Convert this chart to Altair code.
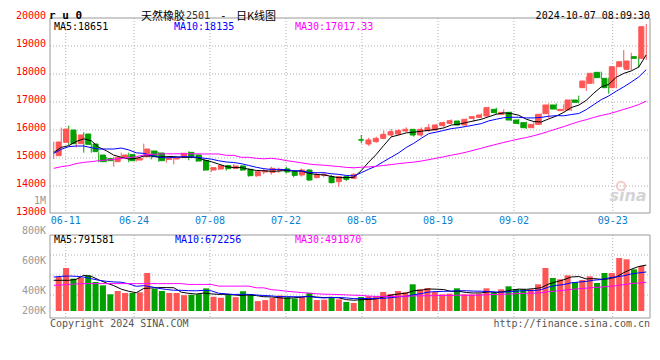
import altair as alt
import pandas as pd

# ---------------- data ----------------
dates = ["06-06","06-07","06-11","06-12","06-13","06-14","06-17","06-18","06-19","06-20",
         "06-21","06-24","06-25","06-26","06-27","06-28","07-01","07-02","07-03","07-04",
         "07-05","07-08","07-09","07-10","07-11","07-12","07-15","07-16","07-17","07-18",
         "07-19","07-22","07-23","07-24","07-25","07-26","07-29","07-30","07-31","08-01",
         "08-02","08-05","08-06","08-07","08-08","08-09","08-12","08-13","08-14","08-15",
         "08-16","08-19","08-20","08-21","08-22","08-23","08-26","08-27","08-28","08-29",
         "08-30","09-02","09-03","09-04","09-05","09-06","09-09","09-10","09-11","09-12",
         "09-13","09-18","09-19","09-20","09-23","09-24","09-25","09-26","09-27","09-30"]

opens = [15083,15559,16000,15512,15857,15500,15107,14976,14869,15024,
         15119,14928,15047,15250,15178,14952,14964,15047,15202,15107,
         14910,14571,14607,14726,14631,14714,14595,14369,14500,14488,
         14560,14610,14520,14393,14571,14300,14380,14333,14155,14333,
         14274,15650,15500,15583,15702,15821,15857,15964,16024,15821,
         15976,16000,16155,16238,16321,16179,16416,16452,16500,16738,
         16560,16631,16357,16262,16083,16202,16583,16893,16690,16714,
         17071,17512,17667,18060,17845,17512,18262,18167,18619,18560]

closes = [15571,16035,15512,15821,15488,15226,14869,14904,15024,15107,
          14904,14988,15321,15047,14904,14988,15000,15167,15059,14892,
          14571,14655,14726,14619,14714,14571,14369,14512,14550,14631,
          14595,14500,14380,14571,14214,14400,14420,14119,14333,14238,
          14417,15640,15643,15702,15845,15940,15976,16024,15821,16024,
          16083,16179,16262,16333,16179,16381,16476,16536,16797,16619,
          16631,16357,16238,16083,16202,16560,16893,16750,16738,17071,
          16988,17750,18024,17869,17512,18262,18440,18464,18560,19690]

highs = [15583,16083,16154,15857,15916,15524,15202,15035,15047,15190,
         15190,15035,15512,15274,15214,15047,15047,15190,15238,15131,
         14964,14690,14750,14750,14786,14750,14631,14536,14631,14690,
         14655,14690,14548,14631,14595,14488,14476,14393,14357,14357,
         14452,15821,15726,15762,15976,16036,16036,16095,16036,16095,
         16214,16214,16298,16381,16333,16417,16476,16595,16833,16797,
         16738,16655,16393,16298,16321,16595,16952,16952,16917,17107,
         17226,17905,18060,18083,17869,18286,18857,18762,18679,19786]

lows = [14964,15535,15464,15381,15190,15190,14845,14845,14690,14952,
        14845,14869,15012,14952,14869,14833,14774,15024,14917,14869,
        14536,14500,14571,14548,14607,14536,14333,14321,14417,14405,
        14476,14452,14310,14333,14178,14274,14310,14095,13976,14178,
        14250,15524,15429,15548,15667,15762,15821,15917,15762,15762,
        15940,15976,16095,16202,16167,16143,16298,16417,16476,16571,
        16536,16321,16202,16036,16060,16179,16417,16714,16655,16679,
        16952,17393,17643,17821,17298,17488,18226,18131,18226,18500]

volumes = [585000,740000,556000,573000,613000,499000,441000,287000,344000,310000,
           310000,321000,654000,384000,344000,310000,310000,272000,278000,290000,
           389000,244000,227000,284000,238000,340000,292000,170000,188000,227000,
           266000,238000,216000,244000,312000,188000,193000,241000,200000,155000,
           138000,241000,253000,253000,327000,293000,344000,321000,459000,373000,
           396000,327000,287000,298000,390000,287000,287000,298000,390000,316000,
           373000,425000,378000,373000,373000,459000,740000,568000,545000,613000,
           499000,534000,597000,482000,654000,654000,912000,889000,717000,775000]

# moving-average values before enough history is on the chart
price_ma5_head = [15200, 15380, 15440, 15590]
price_ma10_head = [15166, 15309, 15405, 15428, 15428, 15369, 15321, 15321, 15321]
price_ma30_head = [14631, 14690, 14726, 14800, 14845, 14869, 14904, 14928, 14952, 14988,
                   15012, 15047, 15107, 15131, 15143, 15150, 15150, 15150, 15150, 15150,
                   15143, 15143, 15143, 15095, 15095, 15024, 15024, 14988, 14970]
vol_ma5_head = [528000, 528000, 528000, 544000]
vol_ma10_head = [584000, 596000, 602000, 596000, 584000, 556000, 528000, 511000, 500000]
vol_ma30_head = [442000, 447000, 457000, 467000, 471000, 471000, 471000, 471000, 471000, 471000,
                 471000, 471000, 471000, 471000, 471000, 471000, 471000, 471000, 457000, 457000,
                 457000, 457000, 428000, 428000, 428000, 428000, 428000, 399000, 399000]

tick_dates = ["06-11", "06-24", "07-08", "07-22", "08-05", "08-19", "09-02", "09-23"]
price_ticks = [20000, 19000, 18000, 17000, 16000, 15000, 14000, 13000]
vol_tick_labels = ["1M", "800K", "600K", "400K", "200K"]

price_header = ["MA5:18651", "MA10:18135", "MA30:17017.33"]
vol_header = ["MA5:791581", "MA10:672256", "MA30:491870"]
ma_colors = ["#000000", "#0000ff", "#ff00ff"]

# ---------------- layout ----------------
W, H = 600, 300
PRICE_BOX = 195
VOL_TOP, VOL_BOTTOM, VOL_BASE = 217, 300, 293
PX_PER_VOL = 17200
MONO = "DejaVu Sans Mono"
UP, DOWN = "#ff5555", "#00a000"
GRID = "#b0b0b0"

n = len(dates)
XS = alt.Scale(domain=[-0.5, n - 0.5], range=[0, W], nice=False, zero=False)
GX = alt.Scale(domain=[-0.5, n - 0.5], range=[-3.3, 604.5], nice=False, zero=False)
PY = alt.Scale(domain=[13000, 20000], range=[196, 0], nice=False, zero=False)
VY = alt.Scale(domain=[0, (VOL_BASE - VOL_TOP) * PX_PER_VOL], range=[VOL_BASE, VOL_TOP], nice=False, zero=True)
PIX = alt.Scale(domain=[0, H], range=[0, H], nice=False, zero=False)


def moving(values, k, head):
    s = pd.Series(values, dtype=float).rolling(k).mean().tolist()
    return list(head) + s[len(head):]


df = pd.DataFrame({
    "i": list(range(n)), "date": dates, "open": opens, "close": closes,
    "high": highs, "low": lows, "vol": volumes,
})
df["col"] = [UP if c >= o else DOWN for o, c in zip(opens, closes)]
df["zero"] = 0
df["ma5"] = moving(closes, 5, price_ma5_head)
df["ma10"] = moving(closes, 10, price_ma10_head)
df["ma30"] = moving(closes, 30, price_ma30_head)
df["vma5"] = moving(volumes, 5, vol_ma5_head)
df["vma10"] = moving(volumes, 10, vol_ma10_head)
df["vma30"] = moving(volumes, 30, vol_ma30_head)

base = alt.Chart(df)
X = alt.X("i:Q", scale=XS, axis=None)
layers = []

# grid lines
grid_p = pd.DataFrame({"p": price_ticks[1:-1]})
layers.append(alt.Chart(grid_p).mark_rule(color=GRID, strokeDash=[1, 2], strokeWidth=1).encode(
    y=alt.Y("p:Q", scale=PY, axis=None), x=alt.value(0), x2=alt.value(W)))
grid_v = pd.DataFrame({"gy": [VOL_TOP + 20 * j for j in range(1, 4)]})
layers.append(alt.Chart(grid_v).mark_rule(color=GRID, strokeDash=[1, 2], strokeWidth=1).encode(
    y=alt.Y("gy:Q", scale=PIX, axis=None), x=alt.value(0), x2=alt.value(W)))
ticks_df = pd.DataFrame({"d": tick_dates, "i": [dates.index(d) for d in tick_dates]})
layers.append(alt.Chart(ticks_df).mark_rule(color=GRID, strokeDash=[1, 2], strokeWidth=1).encode(
    x=alt.X("i:Q", scale=GX, axis=None), y=alt.value(0), y2=alt.value(PRICE_BOX)))
layers.append(alt.Chart(ticks_df).mark_rule(color=GRID, strokeDash=[1, 2], strokeWidth=1).encode(
    x=alt.X("i:Q", scale=GX, axis=None), y=alt.value(VOL_TOP), y2=alt.value(VOL_BOTTOM)))

# sina watermark
layers.append(alt.Chart(pd.DataFrame({"a": [0]})).mark_point(
    shape="circle", size=70, filled=False, stroke="#f2b4b4", strokeWidth=2).encode(
    x=alt.value(571), y=alt.value(168)))

# candles
layers.append(base.mark_rule(strokeWidth=1).encode(
    x=X, y=alt.Y("low:Q", scale=PY, axis=None), y2="high:Q",
    color=alt.Color("col:N", scale=None)))
layers.append(base.mark_bar(size=5, strokeWidth=1).encode(
    x=X, y=alt.Y("open:Q", scale=PY, axis=None), y2="close:Q",
    color=alt.Color("col:N", scale=None), stroke=alt.Stroke("col:N", scale=None)))
for col, c in zip(["ma5", "ma10", "ma30"], ma_colors):
    layers.append(base.mark_line(color=c, strokeWidth=1).encode(
        x=X, y=alt.Y(f"{col}:Q", scale=PY, axis=None)))

# volume
layers.append(base.mark_bar(size=6).encode(
    x=X, y=alt.Y("vol:Q", scale=VY, axis=None), y2="zero:Q",
    color=alt.Color("col:N", scale=None)))
for col, c in zip(["vma5", "vma10", "vma30"], ma_colors):
    layers.append(base.mark_line(color=c, strokeWidth=1).encode(
        x=X, y=alt.Y(f"{col}:Q", scale=VY, axis=None)))

# frames
one = pd.DataFrame({"a": [0]})
layers.append(alt.Chart(one).mark_rect(fillOpacity=0, stroke="#999999", strokeWidth=1).encode(
    x=alt.value(0), x2=alt.value(W), y=alt.value(0), y2=alt.value(PRICE_BOX)))
layers.append(alt.Chart(one).mark_rect(fillOpacity=0, stroke="#999999", strokeWidth=1).encode(
    x=alt.value(0), x2=alt.value(W), y=alt.value(VOL_TOP), y2=alt.value(VOL_BOTTOM)))

# axis-like labels
pt = pd.DataFrame({"p": price_ticks, "t": [str(p) for p in price_ticks]})
layers.append(alt.Chart(pt).mark_text(align="right", baseline="middle", dy=-2, color="#ff0000",
                                      font=MONO, fontSize=10).encode(
    y=alt.Y("p:Q", scale=PY, axis=None), x=alt.value(-4), text="t:N"))
vt = pd.DataFrame({"t": vol_tick_labels,
                   "gy": [min(VOL_TOP - 34 + 30 * j, VOL_BASE) for j in range(len(vol_tick_labels))]})
layers.append(alt.Chart(vt).mark_text(align="right", baseline="middle", color="#999999",
                                      font=MONO, fontSize=10).encode(
    y=alt.Y("gy:Q", scale=PIX, axis=None), x=alt.value(-4), text="t:N"))
layers.append(alt.Chart(ticks_df).mark_text(align="center", baseline="middle", color="#0a7fd0",
                                            font=MONO, fontSize=10).encode(
    x=alt.X("i:Q", scale=GX, axis=None), y=alt.value(203), text="d:N"))


def label(text, x, y, color="#000000", size=10, align="left", font=MONO, weight="normal", style="normal"):
    return alt.Chart(pd.DataFrame({"t": [text]})).mark_text(
        align=align, baseline="middle", color=color, fontSize=size, font=font,
        fontWeight=weight, fontStyle=style).encode(text="t:N", x=alt.value(x), y=alt.value(y))


# header
layers.append(label("r u 0", -1, -2, size=11, weight="bold"))
layers.append(label("天然橡胶", 91, -1, size=11, font="Noto Sans CJK SC"))
layers.append(label("2501", 136, -2, color="#333333", size=10))
layers.append(label("-", 170, -2, size=11))
layers.append(label("日K线图", 186, -1, size=11, font="Noto Sans CJK SC"))
layers.append(label("2024-10-07 08:09:30", W, -2, align="right"))
for txt, c, x in zip(price_header, ma_colors, [4, 124, 245]):
    layers.append(label(txt, x, 9, color=c))
for txt, c, x in zip(vol_header, ma_colors, [4, 125, 245]):
    layers.append(label(txt, x, 222, color=c))
layers.append(label("Copyright 2024 SINA.COM", 0, 306, color="#555555"))
layers.append(label("http://finance.sina.com.cn", W, 306, color="#555555", align="right"))
layers.append(label("sina", 578, 178, color="#d4d4d4", size=16, align="center",
                    font="DejaVu Sans", weight="bold", style="italic"))

chart = alt.layer(*layers).resolve_scale(x="independent", y="independent").properties(
    width=W, height=H,
    autosize=alt.AutoSizeParams(type="none"),
    padding={"left": 42, "top": 10, "right": 2, "bottom": 34},
    background="white",
).configure_view(stroke=None)

chart.save("out.html", embed_options={"renderer": "svg", "actions": False})
